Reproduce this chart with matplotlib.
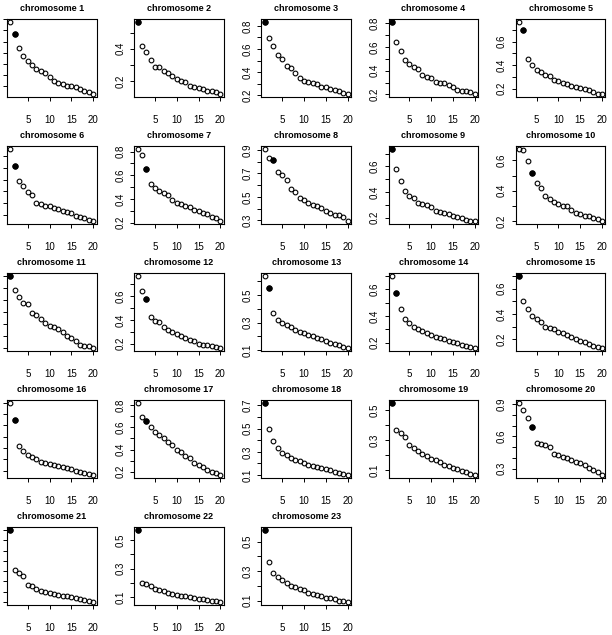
import numpy as np
import matplotlib
matplotlib.use("Agg")
import matplotlib.pyplot as plt

plt.rcParams['font.family'] = ['Liberation Sans', 'DejaVu Sans']

# values per chromosome (index 1..20)
chr1 = [0.776, 0.668, 0.542, 0.470, 0.423, 0.393, 0.351, 0.339, 0.321, 0.279,
        0.246, 0.231, 0.216, 0.204, 0.198, 0.189, 0.177, 0.153, 0.147, 0.129]
chr2 = [0.566, 0.418, 0.381, 0.332, 0.288, 0.286, 0.262, 0.249, 0.233, 0.212,
        0.200, 0.192, 0.169, 0.167, 0.159, 0.151, 0.142, 0.140, 0.136, 0.120]
chr3 = [0.835, 0.696, 0.623, 0.545, 0.516, 0.455, 0.438, 0.388, 0.345, 0.325,
        0.316, 0.304, 0.293, 0.272, 0.270, 0.249, 0.243, 0.238, 0.220, 0.209]
chr4 = [0.811, 0.642, 0.569, 0.490, 0.456, 0.434, 0.411, 0.366, 0.344, 0.338,
        0.304, 0.296, 0.293, 0.282, 0.262, 0.239, 0.231, 0.225, 0.217, 0.203]
chr5 = [0.767, 0.701, 0.449, 0.404, 0.361, 0.342, 0.319, 0.308, 0.277, 0.262,
        0.248, 0.240, 0.223, 0.215, 0.211, 0.197, 0.189, 0.169, 0.158, 0.155]
chr6 = [0.763, 0.618, 0.487, 0.447, 0.393, 0.368, 0.299, 0.288, 0.277, 0.271,
        0.257, 0.248, 0.234, 0.228, 0.217, 0.191, 0.177, 0.174, 0.157, 0.146]
chr7 = [0.823, 0.772, 0.651, 0.527, 0.496, 0.470, 0.454, 0.431, 0.389, 0.366,
        0.355, 0.341, 0.332, 0.304, 0.296, 0.285, 0.270, 0.251, 0.237, 0.214]
chr8 = [0.909, 0.829, 0.817, 0.714, 0.683, 0.640, 0.566, 0.546, 0.491, 0.471,
        0.449, 0.431, 0.420, 0.409, 0.380, 0.363, 0.346, 0.343, 0.326, 0.294]
chr9 = [0.737, 0.579, 0.484, 0.405, 0.368, 0.355, 0.316, 0.305, 0.297, 0.282,
        0.253, 0.245, 0.239, 0.226, 0.213, 0.203, 0.197, 0.182, 0.176, 0.174]
chr10 = [0.676, 0.667, 0.596, 0.519, 0.450, 0.415, 0.368, 0.348, 0.328, 0.313,
         0.300, 0.300, 0.273, 0.251, 0.246, 0.233, 0.231, 0.222, 0.211, 0.200]
chr11 = [0.802, 0.687, 0.626, 0.575, 0.569, 0.489, 0.473, 0.437, 0.405, 0.380,
         0.375, 0.355, 0.330, 0.298, 0.284, 0.253, 0.220, 0.217, 0.211, 0.197]
chr12 = [0.771, 0.643, 0.578, 0.424, 0.393, 0.385, 0.339, 0.319, 0.302, 0.280,
         0.263, 0.245, 0.234, 0.223, 0.200, 0.191, 0.191, 0.183, 0.169, 0.163]
chr13 = [0.640, 0.550, 0.370, 0.320, 0.300, 0.280, 0.265, 0.250, 0.235, 0.225,
         0.210, 0.200, 0.190, 0.180, 0.165, 0.155, 0.145, 0.135, 0.125, 0.115]
chr14 = [0.700, 0.570, 0.450, 0.380, 0.350, 0.320, 0.300, 0.290, 0.270, 0.255,
         0.245, 0.235, 0.225, 0.215, 0.205, 0.195, 0.185, 0.178, 0.170, 0.160]
chr15 = [0.700, 0.500, 0.440, 0.380, 0.360, 0.340, 0.300, 0.290, 0.280, 0.260,
         0.250, 0.230, 0.220, 0.200, 0.190, 0.175, 0.160, 0.150, 0.140, 0.130]
chr16 = [0.800, 0.650, 0.420, 0.370, 0.340, 0.320, 0.300, 0.280, 0.270, 0.260,
         0.250, 0.240, 0.230, 0.220, 0.210, 0.200, 0.190, 0.180, 0.170, 0.160]
chr17 = [0.820, 0.690, 0.660, 0.600, 0.560, 0.530, 0.500, 0.470, 0.440, 0.400,
         0.380, 0.340, 0.320, 0.280, 0.260, 0.240, 0.220, 0.200, 0.190, 0.170]
chr18 = [0.720, 0.500, 0.390, 0.330, 0.290, 0.270, 0.250, 0.230, 0.220, 0.205,
         0.190, 0.180, 0.170, 0.160, 0.150, 0.140, 0.130, 0.120, 0.110, 0.100]
chr19 = [0.550, 0.370, 0.350, 0.320, 0.270, 0.250, 0.230, 0.210, 0.195, 0.175,
         0.165, 0.150, 0.135, 0.125, 0.115, 0.105, 0.095, 0.085, 0.075, 0.065]
chr20 = [0.910, 0.840, 0.770, 0.690, 0.540, 0.530, 0.520, 0.500, 0.440, 0.430,
         0.410, 0.400, 0.380, 0.360, 0.350, 0.330, 0.310, 0.290, 0.270, 0.240]
chr21 = [0.800, 0.410, 0.380, 0.350, 0.270, 0.260, 0.230, 0.210, 0.200, 0.190,
         0.180, 0.170, 0.160, 0.155, 0.150, 0.140, 0.130, 0.125, 0.115, 0.100]
chr22 = [0.570, 0.200, 0.190, 0.180, 0.160, 0.150, 0.140, 0.130, 0.120, 0.115,
         0.110, 0.105, 0.100, 0.095, 0.090, 0.085, 0.080, 0.075, 0.070, 0.065]
chr23 = [0.580, 0.360, 0.290, 0.260, 0.240, 0.220, 0.200, 0.190, 0.180, 0.170,
         0.155, 0.145, 0.140, 0.130, 0.120, 0.115, 0.110, 0.100, 0.095, 0.090]

# index (1-based) of the filled point in each panel
selected = [2, 1, 1, 1, 2, 2, 3, 3, 1, 4, 1, 3, 2, 2, 1, 2, 3, 1, 1, 4, 1, 1, 1]
# every n-th y tick gets a label (R drops labels that would overlap)
label_step = [2] * 19 + [3] + [2] * 3

all_chr = [chr1, chr2, chr3, chr4, chr5, chr6, chr7, chr8, chr9, chr10, chr11, chr12,
           chr13, chr14, chr15, chr16, chr17, chr18, chr19, chr20, chr21, chr22, chr23]

W, H = 612, 635
fig = plt.figure(figsize=(W / 100, H / 100), dpi=100)

x = np.arange(1, 21)
for i, vals in enumerate(all_chr):
    r, c = divmod(i, 5)
    left = 7 + 127.2 * c
    top = 19 + 127 * r
    ax = fig.add_axes([left / W, (H - top - 78) / H, 89.5 / W, 78 / H])
    y = np.array(vals)
    ax.plot(x, y, 'o', mfc='none', mec='black', ms=3.4, mew=0.8)
    k = selected[i] - 1
    ax.plot(x[k], y[k], 'o', color='black', ms=3.6)
    ax.set_xlim(1 - 0.76, 20.76)
    pad = (y.max() - y.min()) * 0.04
    lo, hi = y.min() - pad, y.max() + pad
    ax.set_ylim(lo, hi)
    ax.set_xticks([5, 10, 15, 20])
    yt = np.arange(np.ceil(lo * 10 - 1e-9), np.floor(hi * 10 + 1e-9) + 1) / 10
    ax.set_yticks(yt)
    if c == 0:
        # first column's labels fall outside the picture in the reference
        ax.set_yticklabels([])
    else:
        ax.set_yticklabels(['%.1f' % v if j % label_step[i] == 0 else ''
                            for j, v in enumerate(yt)], rotation=90, va='center')
    ax.tick_params(labelsize=7, length=3, width=0.7)
    ax.tick_params(axis='x', pad=10)
    ax.tick_params(axis='y', pad=3.5)
    for s in ax.spines.values():
        s.set_linewidth(0.8)
    ax.set_title('chromosome %d' % (i + 1), fontsize=6.5, fontweight='bold', pad=6)

fig.savefig('out.png', dpi=100)
